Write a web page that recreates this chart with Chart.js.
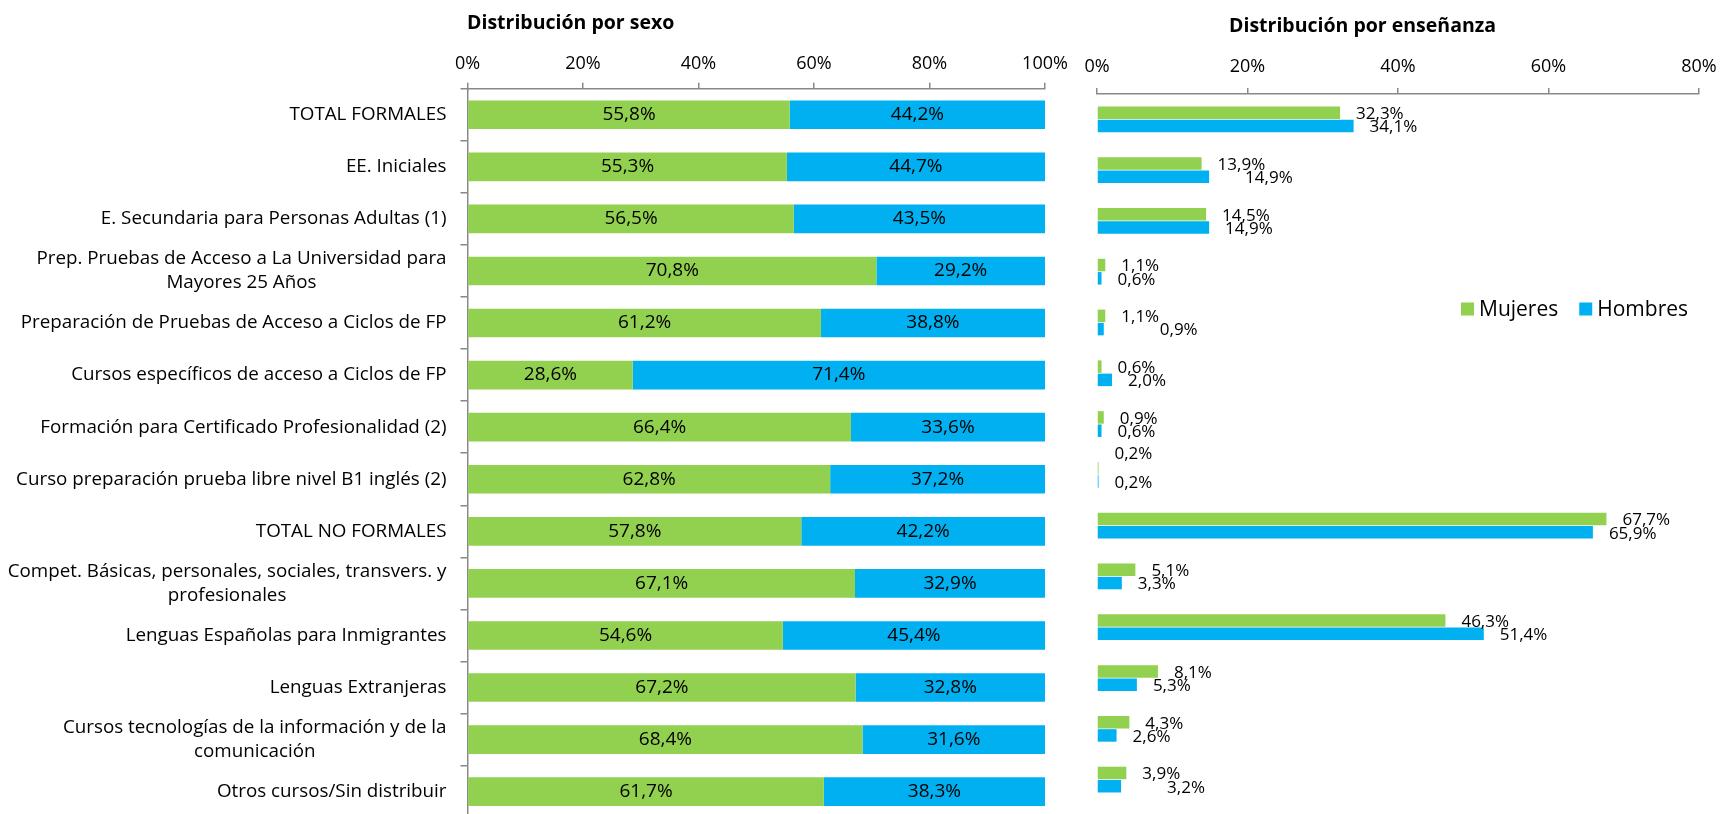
<!DOCTYPE html>
<html>
<head>
<meta charset="utf-8">
<script src="https://cdn.jsdelivr.net/npm/chart.js@4.4.0/dist/chart.umd.min.js"></script>
<style>
  html, body { margin: 0; padding: 0; background: #fff; overflow: hidden; width: 1724px; height: 814px; }
  #chSexo { position: absolute; left: 0; top: 0; }
  #chEns { position: absolute; left: 1072px; top: 0; }
</style>
</head>
<body>
<canvas id="chSexo" width="1078" height="822"></canvas>
<canvas id="chEns" width="658" height="814"></canvas>
<script>
// categorías (las largas van en dos líneas)
const categorias = [
  ['TOTAL FORMALES'],
  ['EE. Iniciales'],
  ['E. Secundaria para Personas Adultas (1)'],
  ['Prep. Pruebas de Acceso a La Universidad para', 'Mayores 25 Años'],
  ['Preparación de Pruebas de Acceso a Ciclos de FP'],
  ['Cursos específicos de acceso a Ciclos de FP'],
  ['Formación para Certificado Profesionalidad (2)'],
  ['Curso preparación prueba libre nivel B1 inglés (2)'],
  ['TOTAL NO FORMALES'],
  ['Compet. Básicas, personales, sociales, transvers. y', 'profesionales'],
  ['Lenguas Españolas para Inmigrantes'],
  ['Lenguas Extranjeras'],
  ['Cursos tecnologías de la información y de la', 'comunicación'],
  ['Otros cursos/Sin distribuir']
];
const series = ['Mujeres', 'Hombres'];

// distribución por sexo (%)
const sexoMujeres = [55.8, 55.3, 56.5, 70.8, 61.2, 28.6, 66.4, 62.8, 57.8, 67.1, 54.6, 67.2, 68.4, 61.7];
const sexoHombres = [44.2, 44.7, 43.5, 29.2, 38.8, 71.4, 33.6, 37.2, 42.2, 32.9, 45.4, 32.8, 31.6, 38.3];

// distribución por enseñanza (%)
const ensMujeres = [32.3, 13.9, 14.5, 1.1, 1.1, 0.6, 0.9, 0.2, 67.7, 5.1, 46.3, 8.1, 4.3, 3.9];
const ensHombres = [34.1, 14.9, 14.9, 0.6, 0.9, 2.0, 0.6, 0.2, 65.9, 3.3, 51.4, 5.3, 2.6, 3.2];

const ticksSexo = [0, 20, 40, 60, 80, 100];
const ticksEns = [0, 20, 40, 60, 80];

const verde = '#92D050';
const azul = '#00B0F0';
const gris = '#898989';
const FONT = '"Open Sans"';

const pct = v => v.toFixed(1).replace('.', ',') + '%';

// titulo dibujado a mano (Excel no lo centra)
const titulo = {
  id: 'titulo',
  afterDraw(chart, args, opts) {
    const ctx = chart.ctx;
    ctx.save();
    ctx.font = 'bold 19.5px ' + FONT;
    ctx.fillStyle = '#000';
    ctx.textAlign = 'left';
    ctx.textBaseline = 'alphabetic';
    ctx.fillText(opts.text, opts.x, opts.y);
    ctx.restore();
  }
};

// etiquetas del eje de categorías: 1a línea alineada a la derecha, la 2a centrada debajo
const etiquetasY = {
  id: 'etiquetasY',
  afterDraw(chart) {
    const ctx = chart.ctx;
    const y = chart.scales.y;
    const right = chart.chartArea.left - 21;
    ctx.save();
    ctx.font = '18.8px ' + FONT;
    ctx.fillStyle = '#000';
    ctx.textBaseline = 'middle';
    categorias.forEach((lines, i) => {
      const cy = y.getPixelForValue(i);
      const w0 = ctx.measureText(lines[0]).width;
      lines.forEach((t, j) => {
        const ty = cy + (j - (lines.length - 1) / 2) * 24;
        if (j === 0) {
          ctx.textAlign = 'right';
          ctx.fillText(t, right, ty);
        } else {
          ctx.textAlign = 'center';
          ctx.fillText(t, right - w0 / 2, ty);
        }
      });
    });
    ctx.restore();
  }
};

// valores dentro de cada tramo
const valoresDentro = {
  id: 'valoresDentro',
  afterDatasetsDraw(chart) {
    const ctx = chart.ctx;
    ctx.save();
    ctx.font = '19px ' + FONT;
    ctx.fillStyle = '#000';
    ctx.textAlign = 'center';
    ctx.textBaseline = 'middle';
    chart.data.datasets.forEach((ds, di) => {
      chart.getDatasetMeta(di).data.forEach((bar, i) => {
        ctx.fillText(pct(ds.data[i]), (bar.x + bar.base) / 2, bar.y);
      });
    });
    ctx.restore();
  }
};

// valores al final de la barra; algunos movidos a mano como en el original
const ajustes = { '1-1': [20, 0], '4-1': [40, 0], '13-1': [30, 0], '7-0': [0, -16] };
const valoresFuera = {
  id: 'valoresFuera',
  afterDatasetsDraw(chart) {
    const ctx = chart.ctx;
    ctx.save();
    ctx.font = '17px ' + FONT;
    ctx.fillStyle = '#000';
    ctx.textAlign = 'left';
    ctx.textBaseline = 'middle';
    chart.data.datasets.forEach((ds, di) => {
      chart.getDatasetMeta(di).data.forEach((bar, i) => {
        const a = ajustes[i + '-' + di] || [0, 0];
        ctx.fillText(pct(ds.data[i]), bar.x + 16 + a[0], bar.y + 1.5 + a[1]);
      });
    });
    ctx.restore();
  }
};

// leyenda dentro del área del gráfico
const leyenda = {
  id: 'leyenda',
  afterDraw(chart, args, opts) {
    const ctx = chart.ctx;
    ctx.save();
    ctx.font = '21px ' + FONT;
    ctx.textBaseline = 'middle';
    ctx.textAlign = 'left';
    let x = opts.x;
    chart.data.datasets.forEach(ds => {
      ctx.fillStyle = ds.backgroundColor;
      ctx.fillRect(x, opts.y - 6.5, 13, 13);
      ctx.fillStyle = '#000';
      ctx.fillText(ds.label, x + 18, opts.y + 1);
      x += 18 + ctx.measureText(ds.label).width + 21;
    });
    ctx.restore();
  }
};

const ejeX = (ticks, max, pad) => ({
  position: 'top',
  min: 0,
  max: max,
  afterBuildTicks: s => { s.ticks = ticks.map(v => ({ value: v })); },
  ticks: { callback: v => v + '%', font: { family: 'Open Sans', size: 18 }, color: '#000', padding: pad, maxRotation: 0 },
  grid: { drawOnChartArea: false, tickLength: 6, color: gris, lineWidth: 1.5 },
  border: { color: gris, width: 1.5 }
});

new Chart(document.getElementById('chSexo'), {
  type: 'bar',
  data: {
    labels: categorias.map(l => l.join(' ')),
    datasets: [
      { label: series[0], data: sexoMujeres, backgroundColor: verde, categoryPercentage: 1, barPercentage: 0.55 },
      { label: series[1], data: sexoHombres, backgroundColor: azul, categoryPercentage: 1, barPercentage: 0.55 }
    ]
  },
  options: {
    indexAxis: 'y',
    responsive: false,
    animation: false,
    devicePixelRatio: 1,
    layout: { padding: { top: 45.3, right: 33, bottom: 4.3, left: 0 } },
    scales: {
      x: Object.assign(ejeX(ticksSexo, 100, 7.9), { stacked: true }),
      y: {
        stacked: true,
        afterFit: s => { s.width = 467.5; },
        ticks: { display: false },
        grid: { drawOnChartArea: false, tickLength: 7, color: gris, lineWidth: 1.5, offset: true },
        border: { color: gris, width: 1.5 }
      }
    },
    plugins: {
      legend: { display: false },
      tooltip: { enabled: false },
      titulo: { text: 'Distribución por sexo', x: 467, y: 29 }
    }
  },
  plugins: [titulo, etiquetasY, valoresDentro]
});

new Chart(document.getElementById('chEns'), {
  type: 'bar',
  data: {
    labels: categorias.map(l => l.join(' ')),
    datasets: [
      { label: series[0], data: ensMujeres, backgroundColor: verde, categoryPercentage: 0.522, barPercentage: 0.943 },
      { label: series[1], data: ensHombres, backgroundColor: azul, categoryPercentage: 0.522, barPercentage: 0.943 }
    ]
  },
  options: {
    indexAxis: 'y',
    responsive: false,
    animation: false,
    devicePixelRatio: 1,
    layout: { padding: { top: 45.7, right: 31, bottom: 9, left: 0 } },
    scales: {
      x: ejeX(ticksEns, 80, 10.3),
      y: {
        afterFit: s => { s.width = 25; },
        ticks: { display: false },
        grid: { display: false },
        border: { display: false }
      }
    },
    plugins: {
      legend: { display: false },
      tooltip: { enabled: false },
      titulo: { text: 'Distribución por enseñanza', x: 157, y: 32 },
      leyenda: { x: 389, y: 309 }
    }
  },
  plugins: [titulo, valoresFuera, leyenda]
});
</script>
</body>
</html>
